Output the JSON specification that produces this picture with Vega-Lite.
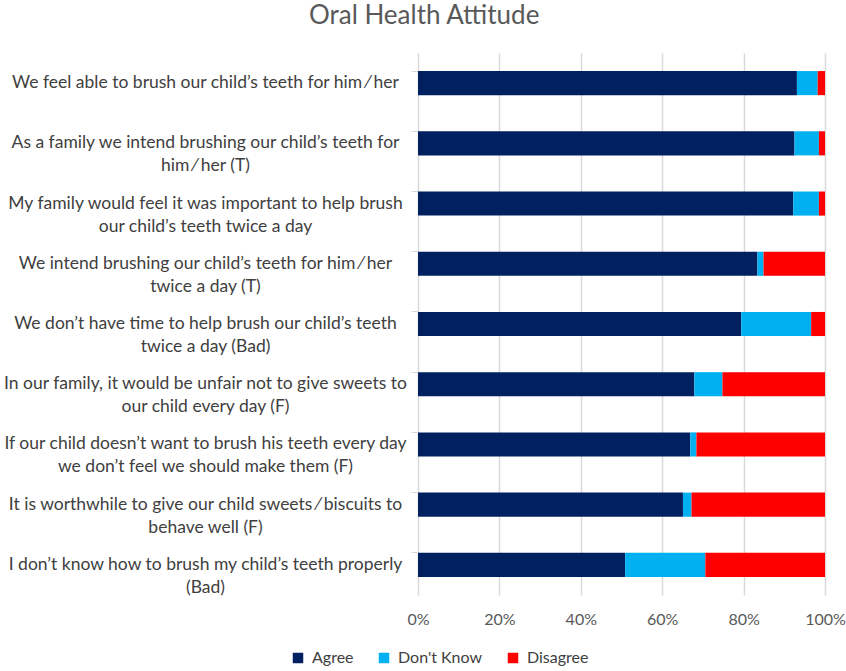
{
  "$schema": "https://vega.github.io/schema/vega-lite/v6.json",
  "width": 407,
  "height": 542,
  "padding": {"left": 2, "top": 3, "right": 0, "bottom": 0},
  "background": "white",
  "title": {"text": "Oral Health Attitude", "fontSize": 26, "font": "Lato", "fontWeight": "normal", "color": "#595959", "anchor": "middle", "frame": "bounds", "offset": 24},
  "data": {"values": [
    {"statement": "We feel able to brush our child’s teeth for him ⁄ her", "response": "Agree", "pct": 93.1},
    {"statement": "We feel able to brush our child’s teeth for him ⁄ her", "response": "Don't Know", "pct": 5.1},
    {"statement": "We feel able to brush our child’s teeth for him ⁄ her", "response": "Disagree", "pct": 1.8},
    {"statement": "As a family we intend brushing our child’s teeth for|him ⁄ her (T)", "response": "Agree", "pct": 92.5},
    {"statement": "As a family we intend brushing our child’s teeth for|him ⁄ her (T)", "response": "Don't Know", "pct": 6.0},
    {"statement": "As a family we intend brushing our child’s teeth for|him ⁄ her (T)", "response": "Disagree", "pct": 1.5},
    {"statement": "My family would feel it was important to help brush|our child’s teeth twice a day", "response": "Agree", "pct": 92.2},
    {"statement": "My family would feel it was important to help brush|our child’s teeth twice a day", "response": "Don't Know", "pct": 6.3},
    {"statement": "My family would feel it was important to help brush|our child’s teeth twice a day", "response": "Disagree", "pct": 1.5},
    {"statement": "We intend brushing our child’s teeth for him ⁄ her|twice a day (T)", "response": "Agree", "pct": 83.4},
    {"statement": "We intend brushing our child’s teeth for him ⁄ her|twice a day (T)", "response": "Don't Know", "pct": 1.5},
    {"statement": "We intend brushing our child’s teeth for him ⁄ her|twice a day (T)", "response": "Disagree", "pct": 15.1},
    {"statement": "We don’t have time to help brush our child’s teeth|twice a day (Bad)", "response": "Agree", "pct": 79.4},
    {"statement": "We don’t have time to help brush our child’s teeth|twice a day (Bad)", "response": "Don't Know", "pct": 17.2},
    {"statement": "We don’t have time to help brush our child’s teeth|twice a day (Bad)", "response": "Disagree", "pct": 3.4},
    {"statement": "In our family, it would be unfair not to give sweets to|our child every day (F)", "response": "Agree", "pct": 67.9},
    {"statement": "In our family, it would be unfair not to give sweets to|our child every day (F)", "response": "Don't Know", "pct": 6.9},
    {"statement": "In our family, it would be unfair not to give sweets to|our child every day (F)", "response": "Disagree", "pct": 25.2},
    {"statement": "If our child doesn’t want to brush his teeth every day|we don’t feel we should make them (F)", "response": "Agree", "pct": 66.9},
    {"statement": "If our child doesn’t want to brush his teeth every day|we don’t feel we should make them (F)", "response": "Don't Know", "pct": 1.5},
    {"statement": "If our child doesn’t want to brush his teeth every day|we don’t feel we should make them (F)", "response": "Disagree", "pct": 31.6},
    {"statement": "It is worthwhile to give our child sweets ⁄ biscuits to|behave well (F)", "response": "Agree", "pct": 65.1},
    {"statement": "It is worthwhile to give our child sweets ⁄ biscuits to|behave well (F)", "response": "Don't Know", "pct": 2.1},
    {"statement": "It is worthwhile to give our child sweets ⁄ biscuits to|behave well (F)", "response": "Disagree", "pct": 32.8},
    {"statement": "I don’t know how to brush my child’s teeth properly|(Bad)", "response": "Agree", "pct": 50.9},
    {"statement": "I don’t know how to brush my child’s teeth properly|(Bad)", "response": "Don't Know", "pct": 19.7},
    {"statement": "I don’t know how to brush my child’s teeth properly|(Bad)", "response": "Disagree", "pct": 29.4}
  ]},
  "transform": [
    {"calculate": "indexof(['Agree', 'Don\\'t Know', 'Disagree'], datum.response)", "as": "ord"}
  ],
  "mark": {"type": "bar"},
  "encoding": {
    "y": {
      "field": "statement", "type": "nominal", "sort": null,
      "scale": {"paddingInner": 0.6, "paddingOuter": 0.3},
      "axis": {
        "title": null,
        "labelExpr": "split(datum.label, '|')",
        "labelFont": "Lato", "labelFontSize": 17.5, "labelColor": "#404040",
        "labelAlign": "center", "labelPadding": 206, "labelLineHeight": 23,
        "labelLimit": 0,
        "bandPosition": 0, "tickSize": 7, "tickColor": "#d9d9d9",
        "domainColor": "#d9d9d9", "grid": false
      }
    },
    "x": {
      "field": "pct", "type": "quantitative", "stack": "normalize",
      "scale": {"domain": [0, 1], "nice": false},
      "axis": {
        "title": null, "format": ".0%", "values": [0, 0.2, 0.4, 0.6, 0.8, 1],
        "labelFont": "Lato", "labelFontSize": 16, "labelColor": "#595959",
        "labelPadding": 16, "labelFlush": false, "ticks": false, "domain": false,
        "grid": true, "gridColor": "#d9d9d9", "gridWidth": 1.5
      }
    },
    "color": {
      "field": "response", "type": "nominal",
      "scale": {"domain": ["Agree", "Don't Know", "Disagree"], "range": ["#002060", "#00B0F0", "#FF0000"]},
      "legend": {
        "title": null, "orient": "none", "direction": "horizontal",
        "legendX": -128, "legendY": 597,
        "symbolType": "square", "symbolSize": 110, "symbolStrokeWidth": 0,
        "labelFont": "Lato", "labelFontSize": 16, "labelColor": "#404040",
        "columnPadding": 22, "labelOffset": 6
      }
    },
    "order": {"field": "ord", "type": "quantitative"}
  },
  "config": {"view": {"stroke": null}}
}
